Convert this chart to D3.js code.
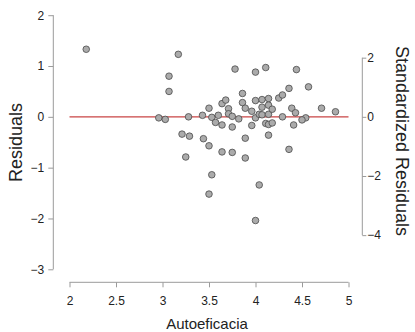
<!DOCTYPE html>
<html><head><meta charset="utf-8">
<script src="https://cdn.jsdelivr.net/npm/d3@7"></script>
<style>
html,body{margin:0;padding:0;background:#fff;}
svg{display:block;font-family:"Liberation Sans",Arial,sans-serif;}
</style></head>
<body><svg id="c" width="415" height="332"></svg>
<script>
const autoeficacia = [2.18,3.17,3.07,3.07,2.96,3.03,3.28,3.43,3.50,3.53,3.57,3.60,3.64,3.64,3.68,3.71,3.71,3.75,3.75,3.78,3.82,3.86,3.86,3.89,3.96,3.96,4.00,4.00,4.00,4.04,4.07,4.07,4.07,4.11,4.11,4.14,4.14,4.14,4.14,4.18,4.18,4.25,4.29,4.36,4.44,4.57,4.39,4.43,4.29,4.54,4.50,4.41,4.71,4.86,3.21,3.29,3.44,3.50,3.89,4.14,3.25,3.64,3.75,3.89,3.53,4.04,3.50,4.00,4.36];
const residuals = [1.33,1.23,0.80,0.50,-0.02,-0.05,0.00,0.03,0.17,-0.01,-0.11,0.03,-0.16,0.26,0.33,0.16,0.06,0.01,-0.20,0.94,-0.04,0.46,0.28,0.17,0.11,-0.17,0.88,0.32,-0.02,0.05,0.34,0.19,0.04,0.97,-0.13,0.36,0.23,0.05,-0.15,0.15,-0.12,0.37,0.43,0.56,0.93,0.59,0.17,0.08,0.00,-0.02,-0.06,-0.16,0.17,0.10,-0.34,-0.38,-0.43,-0.57,-0.42,-0.36,-0.79,-0.69,-0.70,-0.81,-1.14,-1.34,-1.52,-2.04,-0.64];
const xTicks = [2,2.5,3,3.5,4,4.5,5];
const yTicks = [-3,-2,-1,0,1,2];
const stdTicks = [-4,-2,0,2];
const residualSE = 0.582;
const xTitle = "Autoeficacia", yTitle = "Residuals", y2Title = "Standardized Residuals";

const svg = d3.select("#c");
const x = d3.scaleLinear().domain([2,5]).range([69.5,348.5]);
const y = d3.scaleLinear().domain([-3,2]).range([269.3,15.2]);
const y2 = d3.scaleLinear().domain([-3/residualSE, 2/residualSE]).range([269.3,15.2]);
const axisCol = "#9a9a9a", textCol = "#222";

function style(g){
  g.selectAll("path.domain").remove();
  g.selectAll(".tick line").attr("stroke",axisCol);
  g.selectAll(".tick text").attr("fill",textCol).attr("font-size","12px");
}
// left axis
const gl = svg.append("g").attr("transform","translate(53.3,0)")
  .call(d3.axisLeft(y).tickValues(yTicks).tickSize(5).tickPadding(4).tickFormat(d3.format("d")));
style(gl);
gl.append("line").attr("x1",0).attr("x2",0).attr("y1",y(d3.min(yTicks))).attr("y2",y(d3.max(yTicks))).attr("stroke",axisCol);
// bottom axis
const gb = svg.append("g").attr("transform","translate(0,282.3)")
  .call(d3.axisBottom(x).tickValues(xTicks).tickSize(5).tickPadding(9).tickFormat(d=>String(d)));
style(gb);
gb.append("line").attr("y1",0).attr("y2",0).attr("x1",x(d3.min(xTicks))).attr("x2",x(d3.max(xTicks))).attr("stroke",axisCol);
// right axis
const gr = svg.append("g").attr("transform","translate(362.3,0)")
  .call(d3.axisRight(y2).tickValues(stdTicks).tickSize(4).tickPadding(1).tickFormat(d3.format("d")));
style(gr);
gr.append("line").attr("x1",0).attr("x2",0).attr("y1",y2(d3.min(stdTicks))).attr("y2",y2(d3.max(stdTicks))).attr("stroke",axisCol);

// zero line
svg.append("line").attr("x1",x(2)).attr("x2",x(5)).attr("y1",y(0)).attr("y2",y(0))
  .attr("stroke","#c94545").attr("stroke-width",1.4);

// points
svg.append("g").selectAll("circle").data(autoeficacia.map((d,i)=>[d,residuals[i]]))
  .join("circle").attr("cx",d=>x(d[0])).attr("cy",d=>y(d[1])).attr("r",3.3)
  .attr("fill","#ababab").attr("stroke","#4a4a4a").attr("stroke-width",0.8);

// titles
svg.append("text").attr("x",207).attr("y",329).attr("text-anchor","middle")
  .attr("font-size","15px").attr("fill",textCol).text(xTitle);
svg.append("text").attr("transform","translate(22,142.5) rotate(-90)").attr("text-anchor","middle")
  .attr("font-size","18px").attr("fill",textCol).text(yTitle);
svg.append("text").attr("transform","translate(396,141) rotate(90)").attr("text-anchor","middle")
  .attr("font-size","18px").attr("fill",textCol).text(y2Title);
</script></body></html>
